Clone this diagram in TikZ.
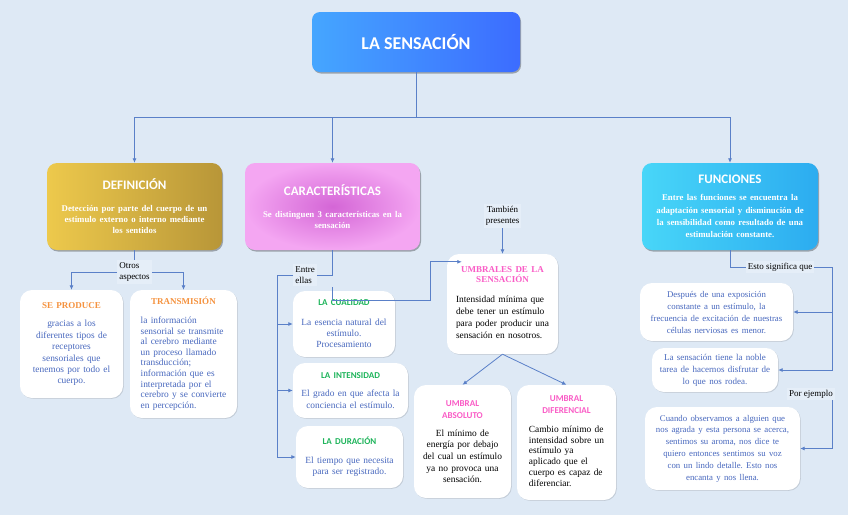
\documentclass[tikz,border=0pt]{standalone}
\usepackage{fontspec}
\setmainfont{Liberation Serif}
\newfontfamily\carl{Carlito}
\usetikzlibrary{shadows,calc,arrows.meta}
\definecolor{bg}{HTML}{DEE9F5}
\definecolor{lbg}{HTML}{E5EEF8}
\definecolor{conn}{HTML}{5A80C8}
\definecolor{btxt}{HTML}{4868BE}
\definecolor{orng}{HTML}{F5923E}
\definecolor{grn}{HTML}{1DB45A}
\definecolor{pnk}{HTML}{FA5CC6}
\definecolor{tA}{HTML}{45A6FF}
\definecolor{tB}{HTML}{3C6CFF}
\definecolor{gA}{HTML}{EDC94C}
\definecolor{gB}{HTML}{B89638}
\definecolor{pA}{HTML}{D466D6}
\definecolor{pB}{HTML}{F4A6F2}
\definecolor{cA}{HTML}{48D6F8}
\definecolor{cB}{HTML}{2CACF0}
\newcommand\hdC[1]{{\carl\bfseries\fontsize{13}{15}\selectfont #1\par}}
\newcommand\cbody{\bfseries\fontsize{8.8}{11}\selectfont}
\newcommand\hdS[1]{{\color{orng}\bfseries\fontsize{9}{11}\selectfont #1\par}}
\newcommand\hdG[1]{{\color{grn}\carl\bfseries\fontsize{9}{11}\selectfont #1\par}}
\newcommand\hdP[1]{{\color{pnk}\carl\bfseries\fontsize{9}{12.5}\selectfont #1\par}}
\newcommand\hdU[1]{{\color{pnk}\bfseries\fontsize{9}{10}\selectfont #1\par}}
\newcommand\leftlines[1]{\begin{tabular}[t]{@{}l@{}}#1\end{tabular}}
\frenchspacing
\begin{document}
\begin{tikzpicture}[x=1pt,y=-1pt,
  wbox/.style={fill=white, rounded corners=12pt, inner sep=0pt, align=center, text=btxt,
    drop shadow={shadow xshift=0.8pt, shadow yshift=-0.8pt, opacity=0.12, fill=black}},
  cbox/.style={rounded corners=10pt, inner sep=0pt, align=center, text=white,
    drop shadow={shadow xshift=1pt, shadow yshift=-1.5pt, opacity=0.3, fill=black}},
  ln/.style={draw=conn, line width=0.8pt},
  arr/.style={draw=conn, line width=0.8pt, -{Latex[length=4.5pt,width=4pt]}},
  lab/.style={fill=lbg, inner sep=2pt, align=left, font=\fontsize{9}{11.5}\selectfont}]
\fill[bg] (0,0) rectangle (848,515);
\useasboundingbox (0,0) rectangle (848,515);

% main boxes
\node[cbox, left color=tA, right color=tB, rounded corners=8pt, minimum width=208pt, minimum height=60pt] (title) at (416,42)
  {\carl\bfseries\fontsize{18}{20}\selectfont LA SENSACIÓN};
\node[cbox, left color=gA, right color=gB, minimum width=175pt, minimum height=87pt, text width=166pt] (def) at (134.5,206.5)
  {\hdC{DEFINICIÓN}\vspace{11pt}{\cbody Detección por parte del cuerpo de un\\estímulo externo o interno mediante\\los sentidos\par}};
\node[cbox, inner color=pA, outer color=pB, minimum width=175pt, minimum height=87pt, text width=166pt] (char) at (332.5,206.5)
  {\hdC{CARACTERÍSTICAS}\vspace{11pt}{\cbody Se distinguen 3 características en la\\sensación\par}};
\node[cbox, left color=cA, right color=cB, minimum width=176pt, minimum height=87pt, text width=168pt] (fun) at (730,206.5)
  {\hdC{FUNCIONES}\vspace{5pt}{\bfseries\fontsize{8.8}{12.3}\selectfont Entre las funciones se encuentra la\\adaptación sensorial y disminución de\\la sensibilidad como resultado de una\\estimulación constante.\par}};

% definicion children
\node[wbox, minimum width=103pt, minimum height=108pt, text width=98pt] (seprod) at (71.5,344)
  {\hdS{SE PRODUCE}\vspace{7.5pt}{\fontsize{9.4}{11.4}\selectfont gracias a los\\diferentes tipos de\\receptores\\sensoriales que\\tenemos por todo el\\cuerpo.\par}};
\node[wbox, minimum width=107pt, minimum height=128pt, text width=102pt] (trans) at (183.5,354)
  {\hdS{TRANSMISIÓN}\vspace{8.5pt}{\fontsize{9.4}{10.6}\selectfont\leftlines{la información\\sensorial se transmite\\al cerebro mediante\\un proceso llamado\\transducción;\\información que es\\interpretada por el\\cerebro y se convierte\\en percepción.}\par}};

% caracteristicas children
\node[wbox, minimum width=102pt, minimum height=66pt, text width=98pt] (cual) at (344,324)
  {\hdG{LA CUALIDAD}\vspace{9pt}{\fontsize{9.4}{11}\selectfont La esencia natural del\\estímulo.\\Procesamiento\par}};
\node[wbox, minimum width=115pt, minimum height=55pt, text width=110pt] (inten) at (350.5,390.5)
  {\hdG{LA INTENSIDAD}\vspace{6pt}{\fontsize{9.4}{12}\selectfont El grado en que afecta la\\conciencia el estímulo.\par}};
\node[wbox, minimum width=107pt, minimum height=62pt, text width=102pt] (dur) at (349.5,457)
  {\hdG{LA DURACIÓN}\vspace{8pt}{\fontsize{9.4}{11}\selectfont El tiempo que necesita\\para ser registrado.\par}};

% umbrales
\node[wbox, text=black, minimum width=111pt, minimum height=100pt, text width=106pt] (umbr) at (502.5,304)
  {\hdU{UMBRALES DE LA\\SENSACIÓN}\vspace{8pt}{\fontsize{9.4}{12}\selectfont\leftlines{Intensidad mínima que\\debe tener un estímulo\\para poder producir una\\sensación en nosotros.}\par}};
\node[wbox, text=black, minimum width=97pt, minimum height=113pt, text width=93pt] (abs) at (462.5,441.5)
  {\hdP{UMBRAL\\ABSOLUTO}\vspace{6pt}{\fontsize{9.4}{11.6}\selectfont El mínimo de\\energía por debajo\\del cual un estímulo\\ya no provoca una\\sensación.\par}};
\node[wbox, text=black, minimum width=99pt, minimum height=115pt, text width=95pt] (dif) at (566.5,442.5)
  {\hdP{UMBRAL\\DIFERENCIAL}\vspace{7.5pt}{\fontsize{9.4}{10.8}\selectfont\leftlines{Cambio mínimo de\\intensidad sobre un\\estímulo ya\\aplicado que el\\cuerpo es capaz de\\diferenciar.}\par}};

% funciones children
\node[wbox, minimum width=153pt, minimum height=58pt, text width=148pt] (f1) at (716.5,312)
  {\fontsize{8.8}{12}\selectfont Después de una exposición\\constante a un estímulo, la\\frecuencia de excitación de nuestras\\células nerviosas es menor.\par};
\node[wbox, minimum width=126pt, minimum height=44pt, text width=122pt] (f2) at (715,370)
  {\fontsize{9}{12}\selectfont La sensación tiene la noble\\tarea de hacernos disfrutar de\\lo que nos rodea.\par};
\node[wbox, minimum width=155pt, minimum height=83pt, text width=150pt] (f3) at (722.5,448.5)
  {\fontsize{8.8}{11.8}\selectfont Cuando observamos a alguien que\\nos agrada y esta persona se acerca,\\sentimos su aroma, nos dice te\\quiero entonces sentimos su voz\\con un lindo detalle. Esto nos\\encanta y nos llena.\par};

% labels
\node[lab] (otros) at (134.5,272) {Otros\\aspectos};
\node[lab] (entre) at (305,275) {Entre\\ellas};
\node[lab, align=center] (tamb) at (502.5,216) {También\\presentes};
\node[lab] (esto) at (780,267) {Esto significa que};
\node[lab] (pe) at (811,394) {Por ejemplo};

% connectors
\coordinate (hub) at (416,117);
\draw[ln] (title.south) -- (hub);
\draw[arr] (hub) -| (def.north);
\draw[arr] (hub) -| (char.north);
\draw[arr] (hub) -| (fun.north);

\draw[ln] (def.south) -- (otros.north);
\draw[arr] (otros.west) -| (seprod.north);
\draw[arr] (otros.east) -| (trans.north);

\coordinate (erail) at (277,275);
\draw[ln] (char.south) |- (entre.east);
\draw[ln] (entre.west) -- (erail);
\draw[arr] (erail) |- (cual.west);
\draw[arr] (erail) |- (inten.west);
\draw[arr] (erail) |- (dur.west);

\coordinate (cu1) at (430,300);
\draw[arr] ($(char.south)+(0,37)$) |- (cu1) |- ($(umbr.north west)+(15,8)$);
\draw[arr] (tamb.south) -- (umbr.north);
\draw[arr] (umbr.south) -- (abs.north);
\draw[arr] (umbr.south) -- (dif.north);

\coordinate (frail) at (832,267);
\draw[ln] (fun.south) |- (esto.west);
\draw[ln] (esto.east) -- (frail);
\draw[arr] (frail) |- (f1.east);
\draw[arr] (frail) |- (f2.east);
\draw[arr] ([xshift=21pt]pe.south) |- (f3.east);
\end{tikzpicture}
\end{document}
